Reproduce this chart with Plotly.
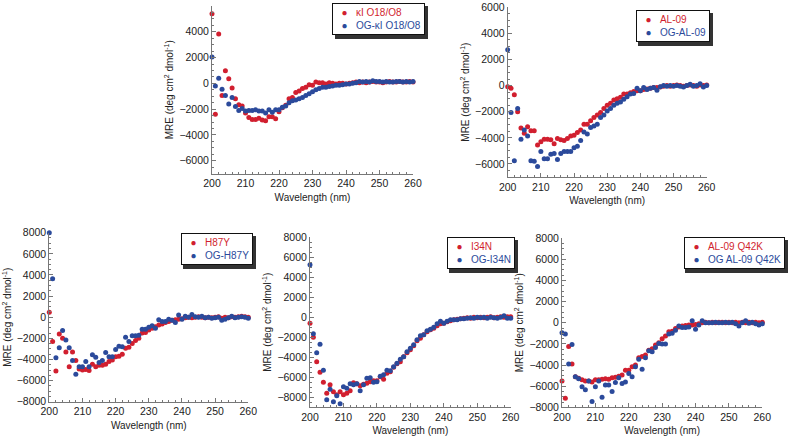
import plotly.graph_objects as go

wavelength = list(range(200, 261))

# Panel 1: kI O18/O8
k1_red = [5400, -2400, 3820, -950, 980, 360, -360, -1200, -1650, -1750,
          -2300, -2650, -2800, -2800, -2700, -2850, -2900, -2600, -2600, -2750,
          -2200, -1900, -1700, -1200, -1100, -700, -600, -400, -300, -100,
          -150, 100, 50, 50, -50, 50, 0, -50, 0, 0,
          -50, 0, 50, 100, 50, 100, 50, 100, 150, 100,
          100, 50, 100, 150, 100, 100, 150, 100, 100, 150, 100]
k1_blue = [2050, -200, 400, -450, -950, -1600, -1100, -1800, -2100, -1950,
           -2150, -2100, -2100, -2050, -2150, -2150, -2300, -2050, -2250, -2050,
           -2050, -1850, -1750, -1500, -1350, -1300, -1200, -1100, -950, -800,
           -650, -500, -400, -300, -300, -250, -200, -150, -150, -100,
           -50, -50, 0, 50, 150, 100, 150, 100, 200, 150,
           150, 100, 150, 100, 100, 150, 150, 100, 150, 100, 150]

# Panel 2: AL-09
al_red = [-80, -200, -700, -2000, -3250, -3650, -3150, -3450, -3450, -4550,
          -4300, -4100, -4100, -4150, -4450, -4050, -4150, -4200, -4050, -3850,
          -3800, -3600, -3400, -2950, -2950, -2700, -2450, -2250, -2050, -1750,
          -1500, -1350, -1100, -1000, -900, -650, -650, -550, -450, -400,
          -400, -300, -250, -200, -150, -150, -100, -50, 0, -50,
          0, 50, 0, -50, 0, 50, 0, -50, 50, 0, 50]
al_blue = [2750, -2050, -5750, -1750, -4100, -3400, -3850, -5750, -5800, -6200,
           -5050, -5600, -5600, -5250, -5200, -5650, -5200, -5050, -5050, -5050,
           -4750, -4650, -4200, -3550, -3700, -3200, -3100, -2950, -2450, -2250,
           -1950, -1750, -1500, -1350, -1250, -1050, -850, -650, -600, -200,
           -400, -150, -300, -200, -150, -350, -80, 0, -50, 0,
           -50, 0, -50, -100, 0, 100, -50, 0, 150, -100, 0]

# Panel 3: H87Y
h87_red = [470, -2300, -5100, -1600, -2000, -3300, -4700, -3300, -4100, -4900,
           -5000, -4950, -5050, -4450, -4700, -4550, -4550, -4450, -4200, -4050,
           -3750, -3700, -3500, -2950, -2850, -2500, -2200, -2000, -1500, -1450,
           -1200, -1050, -900, -750, -650, -500, -400, -300, -250, -200,
           -150, -60, 0, -50, 0, 50, 0, -50, 0, -50,
           0, 50, -100, 0, -50, 50, 0, 50, 100, 50, 0]
h87_blue = [8000, 3650, -3850, -2900, -1250, -2150, -2900, -4100, -5400, -4700,
            -4700, -4200, -4700, -3550, -3800, -4300, -4100, -3350, -3750, -3750,
            -3050, -2750, -2800, -1900, -2300, -1750, -1750, -1700, -1150, -1150,
            -950, -800, -1050, -250, -400, -400, -200, -300, -500, 200,
            -200, 100, 0, 250, 50, 0, 100, -50, 0, -100,
            -50, 0, -300, -200, -50, 100, -50, 0, 50, 0, -100]

# Panel 4: I34N
i34_red = [-600, -2000, -4450, -5500, -6500, -7600, -6750, -7450, -7750, -7450,
           -7750, -7600, -7350, -6550, -6650, -6850, -6700, -6600, -6450, -6350,
           -6350, -5950, -6200, -5600, -5450, -5000, -4650, -4450, -3950, -3550,
           -3250, -2850, -2350, -2100, -1750, -1450, -1250, -1100, -850, -650,
           -600, -450, -350, -250, -200, -150, -100, -50, -100, 0,
           -50, 0, -50, 0, 50, -50, 0, 50, 0, 50, 50]
i34_blue = [5250, -1650, -3550, -2700, -5300, -8250, -7200, -8450, -7850, -8650,
            -6950, -7100, -6650, -6750, -6650, -7350, -6750, -6100, -6050, -6500,
            -6450, -5900, -5750, -5300, -5350, -4950, -4600, -4200, -3950, -3450,
            -3100, -2750, -2250, -1850, -1750, -1350, -1200, -1000, -650, -400,
            -600, -400, -250, -250, -250, -150, -150, -100, -50, -100,
            0, -50, 0, -100, 0, -50, -100, 0, 150, -100, -100]

# Panel 5: AL-09 Q42K
q42_red = [-5500, -7150, -2250, -3900, -5100, -5250, -5400, -5500, -5500, -5600,
           -5400, -5400, -5350, -5300, -5350, -5200, -5150, -5050, -4950, -4500,
           -4500, -4150, -4000, -3300, -3200, -3050, -2600, -2450, -2100, -1900,
           -1500, -1250, -850, -800, -550, -400, -300, -250, -200, -200,
           -150, -100, 0, 50, 0, 50, 0, 50, 50, 0,
           50, 0, 50, 0, 50, 0, 50, 0, 50, 0, 50]
q42_blue = [-950, -1050, -3900, -2050, -5100, -5300, -6050, -6350, -5500, -7450,
            -6050, -5500, -7050, -5900, -5900, -6500, -5650, -5200, -5750, -5600,
            -4800, -5100, -4150, -3450, -4400, -3300, -2650, -2750, -2350, -1950,
            -2000, -2000, -1050, -1000, -700, -300, -450, -450, -400, 200,
            -600, -200, 200, 0, 0, 0, 50, 0, 0, 50,
            0, 50, -100, -300, 0, 200, -50, 50, -100, -200, -100]

W, H = 789, 441

panels = [
    dict(red=k1_red, blue=k1_blue, rname="κI O18/O8", bname="OG-κI O18/O8",
         xd=[212/W, 413/W], yd=[1-173.6/H, 1-6/H], yr=[-7000, 6000],
         leg=(425, 3), legw=93),
    dict(red=al_red, blue=al_blue, rname="AL-09", bname="OG-AL-09",
         xd=[507.7/W, 706.7/W], yd=[1-177/H, 1-7.3/H], yr=[-7000, 6000],
         leg=(710, 10), legw=75),
    dict(red=h87_red, blue=h87_blue, rname="H87Y", bname="OG-H87Y",
         xd=[49.3/W, 248.3/W], yd=[1-401.7/H, 1-232.7/H], yr=[-8000, 8000],
         leg=(253, 233), legw=73),
    dict(red=i34_red, blue=i34_blue, rname="I34N", bname="OG-I34N",
         xd=[310/W, 510.7/W], yd=[1-407.3/H, 1-237.3/H], yr=[-9000, 8000],
         leg=(515, 237), legw=69),
    dict(red=q42_red, blue=q42_blue, rname="AL-09 Q42K", bname="OG AL-09 Q42K",
         xd=[562/W, 762.3/W], yd=[1-407.3/H, 1-238.3/H], yr=[-8000, 8000],
         leg=(785, 237), legw=103),
]
LEG_H = 33

RED = "#d11f2f"
BLUE = "#2b4a9b"
FONT = "Arial, Liberation Sans, sans-serif"

fig = go.Figure()
layout = dict(width=W, height=H, margin=dict(l=0, r=0, t=0, b=0, autoexpand=False),
              paper_bgcolor="white", plot_bgcolor="white",
              font=dict(family=FONT, size=10, color="#222"), showlegend=False)

axis_common = dict(showgrid=False, zeroline=False, showline=True, linecolor="#777",
                   linewidth=1, ticks="inside", ticklen=4, tickcolor="#777",
                   automargin=False, tickfont=dict(size=10.5, color="#222"))


def legend_text(rname, bname, rc, bc):
    return (f'&nbsp;&nbsp;<span style="color:{rc}">●</span>&nbsp;&nbsp;&nbsp;'
            f'<span style="color:{rc}">{rname}</span><br>'
            f'&nbsp;&nbsp;<span style="color:{bc}">●</span>&nbsp;&nbsp;&nbsp;'
            f'<span style="color:{bc}">{bname}</span>')


annotations = []
shapes = []
for i, p in enumerate(panels, start=1):
    xa = "x" if i == 1 else f"x{i}"
    ya = "y" if i == 1 else f"y{i}"
    for vals, name, col in [(p["red"], p["rname"], RED), (p["blue"], p["bname"], BLUE)]:
        fig.add_trace(go.Scatter(
            x=wavelength, y=vals, mode="markers", xaxis=xa, yaxis=ya,
            name=name, cliponaxis=False,
            marker=dict(color=col, size=5)))
    suffix = "" if i == 1 else str(i)
    layout["xaxis" + suffix] = dict(axis_common, domain=p["xd"], range=[200, 260],
                                    anchor=ya, tickvals=[200, 210, 220, 230, 240, 250, 260],
                                    minor=dict(dtick=2, tick0=200, ticks="inside", ticklen=2, tickcolor="#777"),
                                    title=dict(text="Wavelength (nm)", font=dict(size=10), standoff=5))
    layout["yaxis" + suffix] = dict(axis_common, domain=p["yd"], range=p["yr"], anchor=xa,
                                    dtick=2000, tick0=0,
                                    minor=dict(dtick=500, ticks="inside", ticklen=2, tickcolor="#777"),
                                    title=dict(text="MRE (deg cm<sup>2</sup> dmol<sup>-1</sup>)",
                                               font=dict(size=10), standoff=3))
    rx, ty = p["leg"]
    # legend drop shadow
    shapes.append(dict(type="rect", xref="paper", yref="paper", layer="above",
                       x0=(rx - p["legw"] + 3) / W, x1=(rx + 3) / W,
                       y0=1 - (ty + LEG_H + 3) / H, y1=1 - (ty + 3) / H,
                       fillcolor="#333", line=dict(width=0)))
    annotations.append(dict(
        xref="paper", yref="paper", x=rx / W, y=1 - ty / H, xanchor="right", yanchor="top",
        showarrow=False, align="left",
        text=legend_text(p["rname"], p["bname"], RED, BLUE),
        font=dict(size=10), bgcolor="white",
        bordercolor="#111", borderwidth=1, borderpad=3))

layout["annotations"] = annotations
layout["shapes"] = shapes
fig.update_layout(**layout)
fig.write_html("out.html", config={"displayModeBar": False},
               post_script="document.body.style.margin='0';")
